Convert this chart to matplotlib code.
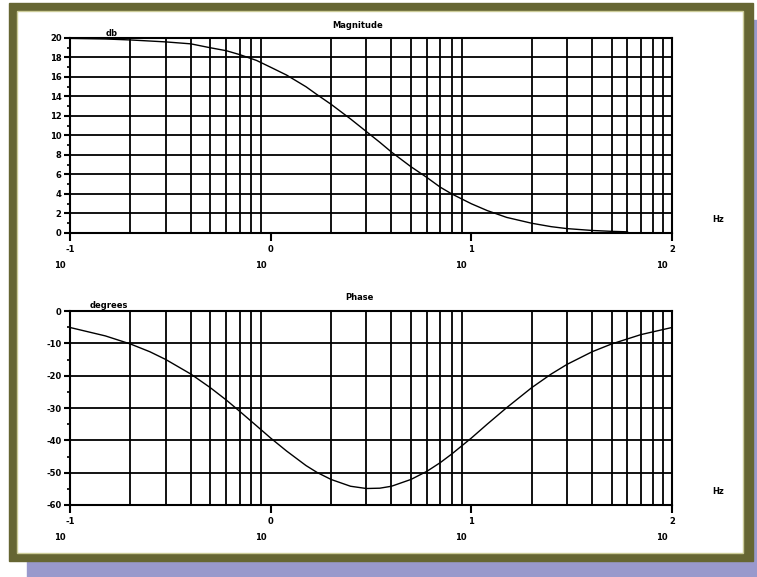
import numpy as np
import matplotlib
matplotlib.use("Agg")
from matplotlib import pyplot as plt
from matplotlib.patches import Rectangle
from matplotlib.ticker import FixedLocator, NullFormatter

# frequency samples (Hz) and values
mag_freq = [0.1, 0.15, 0.2, 0.3, 0.4, 0.5, 0.6, 0.7, 0.85, 1, 1.2, 1.5, 1.7,
            2, 2.5, 3, 3.5, 4, 5, 6, 7, 8, 10, 12, 15, 20, 25, 30, 40, 50, 60]
mag_db = [19.96, 19.9, 19.8, 19.6, 19.4, 19.0, 18.7, 18.3, 17.7, 17.0, 16.2,
          15.0, 14.2, 13.2, 11.7, 10.4, 9.3, 8.3, 6.8, 5.7, 4.7, 4.0, 3.0,
          2.3, 1.6, 1.0, 0.65, 0.45, 0.26, 0.17, 0.12]

phase_freq = [0.1, 0.15, 0.2, 0.25, 0.3, 0.4, 0.5, 0.6, 0.7, 0.85, 1, 1.2,
              1.5, 1.7, 2, 2.5, 3, 3.5, 4, 5, 6, 7, 8, 10, 12, 15, 20, 25,
              30, 40, 50, 70, 100]
phase_deg = [-5.1, -7.7, -10.2, -12.6, -15.0, -19.5, -23.7, -27.5, -31.0,
             -35.5, -39.3, -43.3, -47.8, -49.9, -52.1, -54.2, -54.9, -54.8,
             -54.2, -52.1, -49.6, -46.9, -44.2, -39.3, -35.0, -29.9, -23.7,
             -19.5, -16.5, -12.6, -10.2, -7.3, -5.1]

mag_ticks = [0, 2, 4, 6, 8, 10, 12, 14, 16, 18, 20]
phase_ticks = [-60, -50, -40, -30, -20, -10, 0]
decades = [-1, 0, 1, 2]

W, H = 757, 577
fig = plt.figure(figsize=(W / 100, H / 100), dpi=100)

def px(x0, y0, x1, y1):
    # pixel box (top-left origin) -> figure fraction rect
    return [x0 / W, 1 - y1 / H, (x1 - x0) / W, (y1 - y0) / H]

def box(x0, y0, x1, y1, **kw):
    r = px(x0, y0, x1, y1)
    fig.patches.append(Rectangle(r[:2], r[2], r[3], transform=fig.transFigure, **kw))

# shadow, olive frame, white inside
box(27, 20, 760, 580, color="#9999cc", zorder=0)
box(9, 3, 753, 561, color="#666633", zorder=1)
box(17, 11, 743, 553, facecolor="white", edgecolor="#cccc99", linewidth=1, zorder=2)

font = dict(fontsize=6, fontweight="bold", family="DejaVu Sans", color="black", zorder=10)

def setup(ax, freq, vals, yticks, ymin, ymax, top, title, title_x, ylab, ylab_x):
    ax.set_zorder(5)
    ax.set_xscale("log")
    ax.set_xlim(0.1, 100)
    ax.set_ylim(ymin, ymax)
    ax.patch.set_alpha(0)
    # grid: vertical at every 2..9 x decade, horizontal at major y ticks
    minors = [m * 10.0 ** d for d in decades[:-1] for m in range(2, 10)]
    for xv in minors:
        ax.axvline(xv, color="black", lw=1.3, zorder=1)
    for yv in yticks[1:-1]:
        ax.axhline(yv, color="black", lw=1.3, zorder=1)
    ax.plot(freq, vals, color="black", lw=1.0, zorder=3)
    for s in ax.spines.values():
        s.set_linewidth(1.5)
    ax.xaxis.set_major_locator(FixedLocator([10.0 ** d for d in decades]))
    ax.xaxis.set_minor_locator(FixedLocator([]))
    ax.xaxis.set_major_formatter(NullFormatter())
    ax.tick_params(axis="x", which="major", direction="out", length=6, width=1.5)
    ax.set_yticks(yticks)
    ax.set_yticklabels([str(t) for t in yticks], fontweight="bold", fontsize=6)
    step = yticks[1] - yticks[0]
    ax.yaxis.set_minor_locator(FixedLocator([t + step / 2 for t in yticks[:-1]]))
    ax.tick_params(axis="y", which="major", direction="out", length=4, width=1.5, pad=2)
    ax.tick_params(axis="y", which="minor", direction="out", length=2, width=1.2)
    fig.text(title_x / W, 1 - (top - 13) / H, title, ha="center", va="center", **font)
    fig.text(ylab_x / W, 1 - (top - 5) / H, ylab, ha="left", va="center", **font)

ax1 = fig.add_axes(px(70, 38, 672, 233))
ax2 = fig.add_axes(px(70, 311, 672, 505))

setup(ax1, mag_freq, mag_db, mag_ticks, 0, 20, 38, "Magnitude", 358, "db", 106)
setup(ax2, phase_freq, phase_deg, phase_ticks, -60, 0, 311, "Phase", 359, "degrees", 90)

# decade labels: exponent at the tick, "10" just left and below
for bottom in (233, 505):
    for i, d in enumerate(decades):
        xpix = 70 + i * (672 - 70) / 3
        fig.text(xpix / W, 1 - (bottom + 16) / H, str(d), ha="center", va="center", **font)
        fig.text((xpix - 10) / W, 1 - (bottom + 32) / H, "10", ha="center", va="center", **font)
    fig.text(718 / W, 1 - (bottom - 13) / H, "Hz", ha="center", va="center", **font)

fig.savefig("out.png", dpi=100)
